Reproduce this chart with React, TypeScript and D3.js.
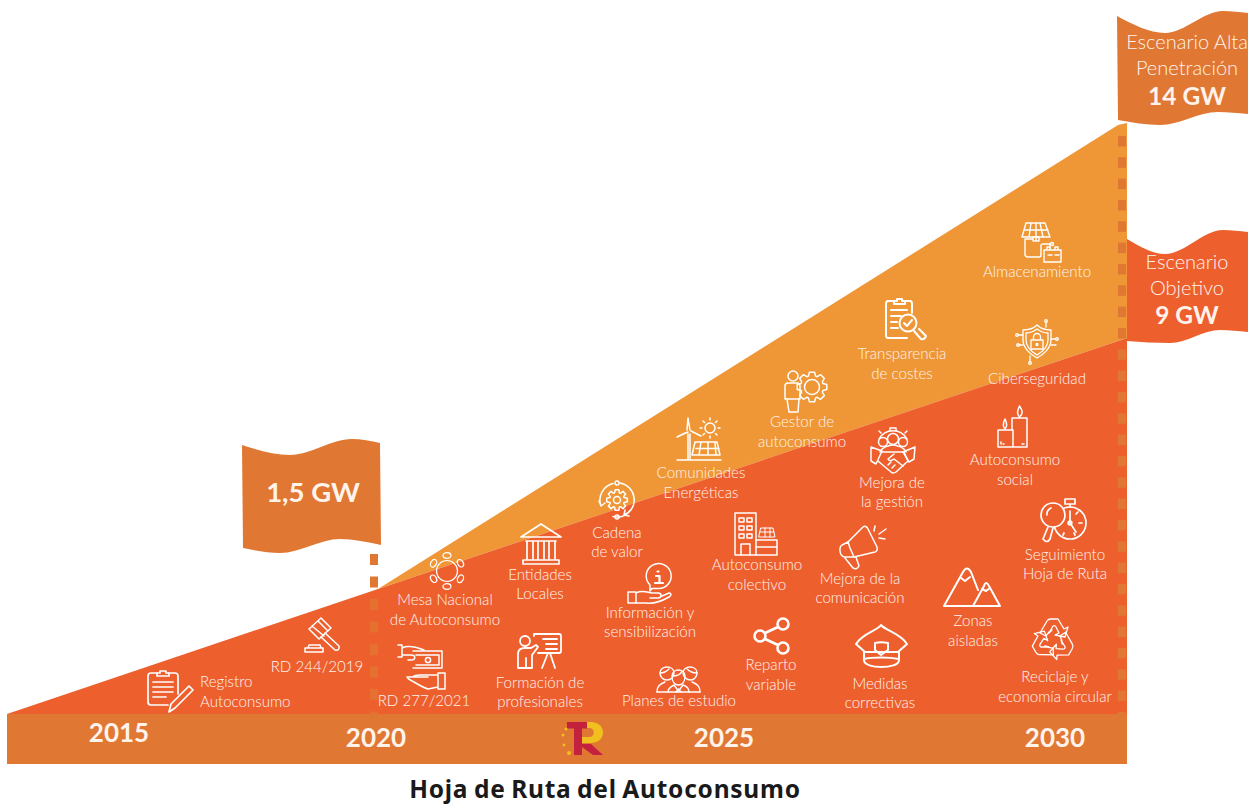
import React from "react";
import * as d3 from "d3";

// ---- data ----
const years = [2015, 2020, 2030];
const baseGW = [0, 1.5, 9];
const highYears = [2020, 2030];
const highGW = [1.5, 14];
const yearLabels = ["2015", "2020", "2025", "2030"];
const flagCaptions = [["1,5 GW"], ["Escenario Alta", "Penetración", "14 GW"], ["Escenario", "Objetivo", "9 GW"]];
const title = "Hoja de Ruta del Autoconsumo";
const measures = [
  ["Registro", "Autoconsumo"], ["RD 244/2019"], ["RD 277/2021"], ["Mesa Nacional", "de Autoconsumo"],
  ["Entidades", "Locales"], ["Formación de", "profesionales"], ["Cadena", "de valor"],
  ["Información y", "sensibilización"], ["Planes de estudio"], ["Comunidades", "Energéticas"],
  ["Autoconsumo", "colectivo"], ["Reparto", "variable"], ["Gestor de", "autoconsumo"],
  ["Mejora de la", "comunicación"], ["Mejora de", "la gestión"], ["Medidas", "correctivas"],
  ["Transparencia", "de costes"], ["Zonas", "aisladas"], ["Autoconsumo", "social"],
  ["Seguimiento", "Hoja de Ruta"], ["Reciclaje y", "economía circular"], ["Almacenamiento"], ["Ciberseguridad"],
];

// ---- layout ----
const RED = "#EE5F2E", AMBER = "#EF9736", BAND = "#E07732", TEXT = "#FFF3EC";
const BASE_Y = 714;
const x = d3.scaleLinear().domain([2015, 2020, 2030]).range([7, 378, 1127]);
const y = d3.scaleLinear().domain([0, 1.5, 9, 14]).range([BASE_Y, 589, 338, 125]);
const labelAt: [number, number, number][] = [
  [200, 687, 20], [317, 672, 0], [424, 706, 0], [445, 605, 20], [540, 580, 19], [540, 688, 19], [617, 538, 19],
  [650, 618, 19], [679, 706, 0], [701, 478, 20], [757, 570, 20], [771, 670, 20], [802, 427, 20], [860, 584, 19],
  [892, 488, 19], [880, 689, 19], [902, 359, 20], [973, 626, 20], [1015, 465, 20], [1065, 560, 19], [1055, 682, 20],
  [1037, 277, 0], [1037, 384, 0],
];
const yearAt: [number, number][] = [[119, 742], [376, 747], [724, 747], [1055, 747]];
const flagOne = {
  top: [[242, 445], [290, 455], [352, 439], [380, 443]],
  bottom: [[381, 545], [340, 539], [280, 553], [243, 548]],
};
const flagHigh = {
  top: [[1117, 16], [1165, 33], [1223, 11], [1248, 13]],
  bottom: [[1248, 114], [1218, 112], [1160, 125], [1118, 120]],
};
const flagTarget = {
  top: [[1127, 239], [1165, 254], [1223, 230], [1248, 232]],
  bottom: [[1248, 332], [1220, 330], [1170, 343], [1127, 341]],
};

const gear = (r: number, R: number, n: number) => {
  const pts: string[] = [];
  for (let i = 0; i < n; i++) {
    const a = (i / n) * 2 * Math.PI, w = Math.PI / n / 1.6;
    [[r, a - w * 1.3], [R, a - w * 0.7], [R, a + w * 0.7], [r, a + w * 1.3]].forEach(([q, t]) =>
      pts.push(`${(q * Math.cos(t)).toFixed(1)},${(q * Math.sin(t)).toFixed(1)}`));
  }
  return "M" + pts.join("L") + "Z";
};

const Ic = ({ at, children, w = 1.5 }: any) => (
  <g transform={`translate(${at[0]},${at[1]})`} fill="none" stroke="#fff" strokeWidth={w} strokeLinejoin="round" strokeLinecap="round">
    {children}
  </g>
);

const ArrowRec = () => (
  <path d="M-13 -7 L-6 -19 Q-5 -21 -2 -21 H5 L11 -11 L15 -13 L12 -3 L2 -5 L6 -7 L3 -13 Q2 -15 0 -14 L-4 -7 L-1 -10 M-13 -7 L-7 -4 L-4 -8" />
);

const icons = (
  <g>
    {/* registro */}
    <Ic at={[148, 670]} w={1.7}>
      <path d="M9 3H3Q0 3 0 6V32Q0 35 3 35H20M30 24V6Q30 3 27 3H21" />
      <path d="M9 6V3H12V1H18V3H21V6Z" />
      <path d="M5 12H25M5 17H25M5 22H25M5 27H18" />
      <path d="M21 42L23 34L41 16L45 20L27 38Z" />
    </Ic>
    {/* RD 244 mazo */}
    <Ic at={[305, 617]}>
      <path d="M4 12L16 1L26 11L14 22Z M7 9L19 19 M13 4L23 14" />
      <path d="M20 16L34 29Q35 34 30 33L16 20" />
      <path d="M0 35H18V31H0Z M3 31L4 28H15L16 31" />
    </Ic>
    {/* RD 277 */}
    <Ic at={[398, 644]}>
      <path d="M15 7H44V24H15 M18 11H41V21H18" />
      <circle cx={30} cy={16} r={2.6} />
      <path d="M0 1H4V13H0 M4 4C10 1 18 3 26 6 M4 11H13C18 11 18 16 13 16H10" />
      <path d="M40 29H47V45H40Z M40 31H22Q17 31 14 33H9C9 34 12 36 16 38C21 41 26 44 30 45L40 43 M15 33 H30" />
    </Ic>
    {/* mesa */}
    <Ic at={[447, 571]} w={1.2}>
      <circle r={10.5} />
      {[-90, -30, 30, 90, 150, 210].map((a) => (
        <ellipse key={a} transform={`rotate(${a}) translate(15.5,0) rotate(90)`} rx={4} ry={2.8} />
      ))}
    </Ic>
    {/* entidades */}
    <Ic at={[520, 523]} w={1.7}>
      <path d="M21 1L41 14H1Z" />
      <path d="M7 18V36M13 18V36M18 18V36M24 18V36M29 18V36M35 18V36M6 18H36" />
      <path d="M3 37H39V41H3Z" />
    </Ic>
    {/* formacion */}
    <Ic at={[517, 632]} w={1.8}>
      <circle cx={8} cy={9} r={5} />
      <path d="M1 36V22C1 17 5 16 8 16H14L19 13L21 15L15 23V36H9V26M9 36H1" />
      <path d="M17 4V2H42Q44 2 44 4V19Q44 21 42 21H21" />
      <path d="M26 7H40M29 12H40M29 17H40" />
      <path d="M31 21L25 36M33 21L38 36" />
    </Ic>
    {/* cadena */}
    <Ic at={[617, 500]}>
      <path d={gear(7.5, 10.5, 8)} />
      <circle r={3.5} />
      <path d="M-4 -16.5A17 17 0 0 0 -16 6 M-4 16.5A17 17 0 0 0 16 -6 M3 -17A17 17 0 0 1 17 -3 M-16 6L-18 1 M-16 6L-12 3 M16 6A17 17 0 0 1 7 15 M7 15L12 16 M7 15L8 10" />
      <circle cx={0} cy={-17} r={2} />
      <circle cx={0} cy={17} r={2} />
    </Ic>
    {/* informacion */}
    <Ic at={[628, 563]}>
      <path d="M22 22A12.5 12.5 0 1 1 30 25.5H24L22 28Z" />
      <path d="M28 13H31.5V20M27 20H35M29.5 8.5H30.5" strokeWidth={2.2} />
      <path d="M0 29H8V40H0Z" />
      <path d="M8 30C14 27 18 29 24 30H30C34 30 34 35 30 35H22M34 33L41 30C44 30 43 33 41 34C34 38 26 41 18 40H8" />
    </Ic>
    {/* planes */}
    <Ic at={[656, 665]} w={1.4}>
      <path d="M4 8C4 0 18 0 18 8C18 12 15 15 11 15C7 15 4 12 4 8ZM27 8C27 0 41 0 41 8C41 12 38 15 34.500 15C31 15 27 12 27 8Z" />
      <path d="M4 8C8 8 11 6 13 4M41 8C37 8 33 6 31 4" />
      <path d="M16 11C16 3 29 3 29 11C29 17 26 20 22.500 20C19 20 16 17 16 11Z M16 11C21 11 25 9 26 6" />
      <path d="M1 27C1 21 4 19 9 17M44 27C44 21 41 19 36 17M12 27C12 23 16 21 18 20L22.500 26L27 20C30 21 33 23 33 27Z" />
      <path d="M1 27H12M33 27H44M20 27L22.500 24L25 27" />
    </Ic>
    {/* comunidades */}
    <Ic at={[677, 417]}>
      <path d="M10 13L11 1L13 13M8 16L0 20L11 15M14 14L24 19M11 17V42M13 17V42" />
      <circle cx={33} cy={11} r={5} />
      <path d="M33 1V3M33 19V21M23 11H25M41 11H43M26 4L27.5 5.5M40 4L38.5 5.5M26 18L27.5 16.5M40 18L38.5 16.5" />
      <path d="M18 25H40L43 38H15Z M19 31.500H42 M24 25L22 38 M31 25V38 M38 25L39 38" />
      <path d="M0 43H44" />
    </Ic>
    {/* colectivo */}
    <Ic at={[735, 512]}>
      <path d="M0 43V1H21V43Z" />
      <path d="M4 6H9V10H4ZM12 6H17V10H12ZM4 14H9V18H4ZM12 14H17V18H12ZM4 22H9V26H4ZM12 22H17V26H12Z" />
      <path d="M6 43V32H15V43" />
      <path d="M21 28H42V43H21M21 35H42" />
      <path d="M26 16H38L40 25H24Z M25 20H39M30 16V25M35 16V25" strokeWidth={1} />
    </Ic>
    {/* reparto */}
    <Ic at={[771, 636]} w={2.6}>
      <circle cx={12} cy={-12} r={5.5} />
      <circle cx={-11} cy={0} r={5.5} />
      <circle cx={12} cy={12} r={5.5} />
      <path d="M7 -9L-6 -3M7 9L-6 3" />
    </Ic>
    {/* gestor */}
    <Ic at={[783, 370]}>
      <circle cx={10} cy={6} r={5} />
      <path d="M2 29V16Q2 13 5 13H14Q17 13 17 16V29Z" />
      <path d="M4 29L6 42H15L16 29" />
      <g transform="translate(29,17)">
        <path d={gear(11.5, 15, 8)} />
        <circle r={7.5} />
      </g>
    </Ic>
    {/* megafono */}
    <Ic at={[839, 524]}>
      <path d="M9 18L24 3Q27 1 29 5L38 23Q39 27 36 28L15 33" />
      <path d="M9 18L3 21C0 23 0 31 5 33L15 33L11 24Z" />
      <path d="M6 34L14 44Q18 46 20 42L17 33" />
      <path d="M36 2L35 7M47 5L40 10M46 15L40 14" />
    </Ic>
    {/* medidas */}
    <Ic at={[855, 624]} w={2}>
      <path d="M26 1C22 7 8 9 1 20L10 28H43L52 20C45 9 31 7 26 1Z" />
      <path d="M9 28V36C9 41 18 43 26 43C35 43 44 41 44 36V28M9 35C18 33 34 33 44 35" />
      <path d="M20 19C24 18 28 18 33 19V26L26 31L20 26Z" />
    </Ic>
    {/* gestion */}
    <Ic at={[870, 428]} w={1.5}>
      <path d="M9 11A16 16 0 0 1 37 11 M20 2V0H26V2 M11 5L9 3M35 5L37 3" />
      <circle cx={13} cy={14} r={4.5} />
      <circle cx={23} cy={11} r={5.500} />
      <circle cx={33} cy={14} r={4.500} />
      <path d="M10 24C12 19 20 17 23 17C26 17 34 19 36 24" />
      <path d="M1 19L12 23L6 36L1 33Z M45 19L33 24L39 34L44 31Z" />
      <path d="M12 24H34L38 33L26 44Q23 46 21 44L8 33" />
      <path d="M24 26L18 31Q20 34 24 31L33 38M22 40L25 37M18 37L21 34" />
    </Ic>
    {/* transparencia */}
    <Ic at={[885, 298]} w={2}>
      <path d="M9 3H3Q1 3 1 6V37Q1 40 3 40H22M27 15V6Q27 3 25 3H20" />
      <path d="M9 6V3H12V1H17V3H20V6Z" />
      <path d="M6 12H22M6 18H16M6 24H12M6 30H13" />
      <circle cx={23} cy={25} r={8.5} />
      <path d="M19 25L22 28L27 22" />
      <path d="M29 33L36 41Q40 42 41 38L34 31" />
    </Ic>
    {/* zonas */}
    <Ic at={[943, 566]} w={2}>
      <path d="M1 40H57L46 20Q43 14 41 20L30 40M35 24L28 6Q24 -1 20 6L1 40" />
      <path d="M18 12L22 15L27 11M39 23L43 25L47 22" />
    </Ic>
    {/* social */}
    <Ic at={[998, 405]}>
      <path d="M0 42V25H15V42Z M14 42H29V13H14V25" />
      <path d="M21.500 12C18 8 20 5 21.500 1C24 5 26 8 21.500 12Z M7 24C4 21 5 18 7 14C9 18 10 21 7 24Z" />
      <path d="M3 39V37M5 39H6M24 39H26" />
    </Ic>
    {/* seguimiento */}
    <Ic at={[1041, 498]} w={1.7}>
      <circle cx={29} cy={25} r={16} />
      <path d="M29 9V6M24 1H34V6H24Z" />
      <path d="M29 25V13M29 25L35 34" />
      <circle cx={29} cy={25} r={1.8} />
      <path d="M41 25H38M34 37L33 35M22 37L23 35M37 14L35 16" />
      <circle cx={12} cy={17} r={12} fill={RED} />
      <path d="M6 17A7 7 0 0 1 10 10" />
      <path d="M7 29L2 41Q6 46 9 41L12 30" />
    </Ic>
    {/* reciclaje */}
    <Ic at={[1053, 640]} w={1.3}>
      <ArrowRec />
      <g transform="rotate(120)"><ArrowRec /></g>
      <g transform="rotate(240)"><ArrowRec /></g>
    </Ic>
    {/* almacenamiento */}
    <Ic at={[1021, 222]} w={1.4}>
      <path d="M5 1H24L29 15H1Z M3 8H27M10 1L8 15M15 1V15M19 1L22 15" />
      <path d="M12 19H18V15H12ZM15 15V19M11 17H4V32Q4 35 7 35H18Q20 35 20 33V23Q20 22 22 22H29M29 22V26" />
      <path d="M23 40V28H40V40ZM26 28V25H29V28M34 28V25H37V28M27 33H31M34 33H38" />
      <circle cx={31} cy={22} r={1.5} />
    </Ic>
    {/* ciberseguridad */}
    <Ic at={[1037, 342]} w={1.3}>
      <path d="M0 -17C-5 -12 -10 -12 -14 -12V-2C-14 6 -6 13 0 16C6 13 14 6 14 -2V-12C10 -12 5 -12 0 -17Z" />
      <path d="M0 -13C-4 -10 -7 -9 -11 -9V-2C-11 5 -5 10 0 13C5 10 11 5 11 -2V-9C7 -9 4 -10 0 -13Z" />
      <path d="M-6 -2H6V7H-6ZM-3.500 -2V-5A3.500 3.500 0 0 1 3.500 -5V-2" />
      <circle r={1} cy={2.5} />
      <path d="M9 -15L9 -20M-14 -7H-19M14 -3H19M-14 3H-18M14 3H19M-7 14L-7 20" />
      <circle cx={9} cy={-21} r={1.3} />
      <circle cx={-20} cy={-7} r={1.3} />
      <circle cx={20} cy={-3} r={1.3} />
      <circle cx={-19} cy={3} r={1.3} />
      <circle cx={-7} cy={21} r={1.3} />
    </Ic>
  </g>
);

const waveLine = d3.line<number[]>().x((d) => d[0]).y((d) => d[1]).curve(d3.curveMonotoneX);
const flagShape = (f: { top: number[][]; bottom: number[][] }) =>
  waveLine(f.top) + "L" + (waveLine(f.bottom) as string).slice(1) + "Z";

export default function App() {
  const line = d3.line<[number, number]>();
  const red = line([[x(years[0]), y(baseGW[0])], [x(years[1]), y(baseGW[1])], [x(years[2]), y(baseGW[2])], [x(years[2]), BASE_Y]]) + "Z";
  const amber = line([[x(highYears[0]), y(highGW[0])], [x(highYears[1]) - 9, y(highGW[1])], [x(highYears[1]), y(highGW[1]) - 2], [x(highYears[1]), y(baseGW[2])]]) + "Z";
  const dashesRight = d3.range(136, 712, 21.33);
  const dashesLeft = d3.range(554, 712, 22.5);
  const light = { fontFamily: "Lato, sans-serif", fontWeight: 300, fill: TEXT } as const;
  return (
    <svg width={1248} height={805} style={{ position: "absolute", left: 0, top: 0, background: "#fff" }}>
      <path d={amber} fill={AMBER} />
      <path d={red} fill={RED} />
      <rect x={7} y={BASE_Y} width={1120} height={50} fill={BAND} />
      {dashesRight.map((d) => <rect key={d} x={1118} y={d} width={8} height={10.5} fill={BAND} />)}
      {dashesLeft.map((d) => <rect key={d} x={370} y={d} width={8} height={11} fill={BAND} opacity={d > 590 ? 0.75 : 1} />)}
      <path d={flagShape(flagOne)} fill={BAND} />
      <path d={flagShape(flagHigh)} fill={BAND} />
      <path d={flagShape(flagTarget)} fill={RED} />

      <text x={313} y={502} textAnchor="middle" fontFamily="Lato, sans-serif" fontWeight={700} fontSize={27.5} fill={TEXT}>{flagCaptions[0][0]}</text>
      <g textAnchor="middle" fontSize={20} {...light}>
        <text x={1187} y={49}>{flagCaptions[1][0]}</text>
        <text x={1187} y={75}>{flagCaptions[1][1]}</text>
        <text x={1187} y={269}>{flagCaptions[2][0]}</text>
        <text x={1187} y={295}>{flagCaptions[2][1]}</text>
      </g>
      <g textAnchor="middle" fontFamily="Lato, sans-serif" fontWeight={700} fontSize={24.5} fill={TEXT}>
        <text x={1187} y={105}>{flagCaptions[1][2]}</text>
        <text x={1187} y={324}>{flagCaptions[2][2]}</text>
      </g>

      {icons}

      <g fontSize={15.1} {...light}>
        {measures.map((lines, i) => {
          const [lx, ly, gap] = labelAt[i];
          return lines.map((s, k) => (
            <text key={s + k} x={lx} y={ly + k * gap} textAnchor={i === 0 ? "start" : "middle"}>{s}</text>
          ));
        })}
      </g>

      <g textAnchor="middle" fontFamily="Lato, sans-serif" fontWeight={700} fontSize={26} fill={TEXT}>
        {yearLabels.map((s, i) => <text key={s} x={yearAt[i][0]} y={yearAt[i][1]}>{s}</text>)}
      </g>

      {/* logo */}
      <g transform="translate(561,720)">
        <path d="M22 2H30C46 2 46 23 30 23H21V17H29C34 17 34 8 29 8H22Z" fill="#F1BF1F" />
        <path d="M6 2H26V8.500H21V35H13V8.500H6Z" fill="#C4213F" />
        <path d="M21 24H30L42 35H32L21 27Z" fill="#C4213F" />
        <g fill="#F1BF1F">
          <circle cx={5} cy={9} r={1.5} /><circle cx={2} cy={15} r={1.5} /><circle cx={3} cy={25} r={1.5} /><circle cx={8} cy={33} r={2} />
        </g>
      </g>

      <text x={605} y={798} textAnchor="middle" fontFamily="Noto Sans, sans-serif" fontWeight={700} fontSize={24.5} letterSpacing={0.75} wordSpacing={-1.5} fill="#1a1a1a">{title}</text>
    </svg>
  );
}
